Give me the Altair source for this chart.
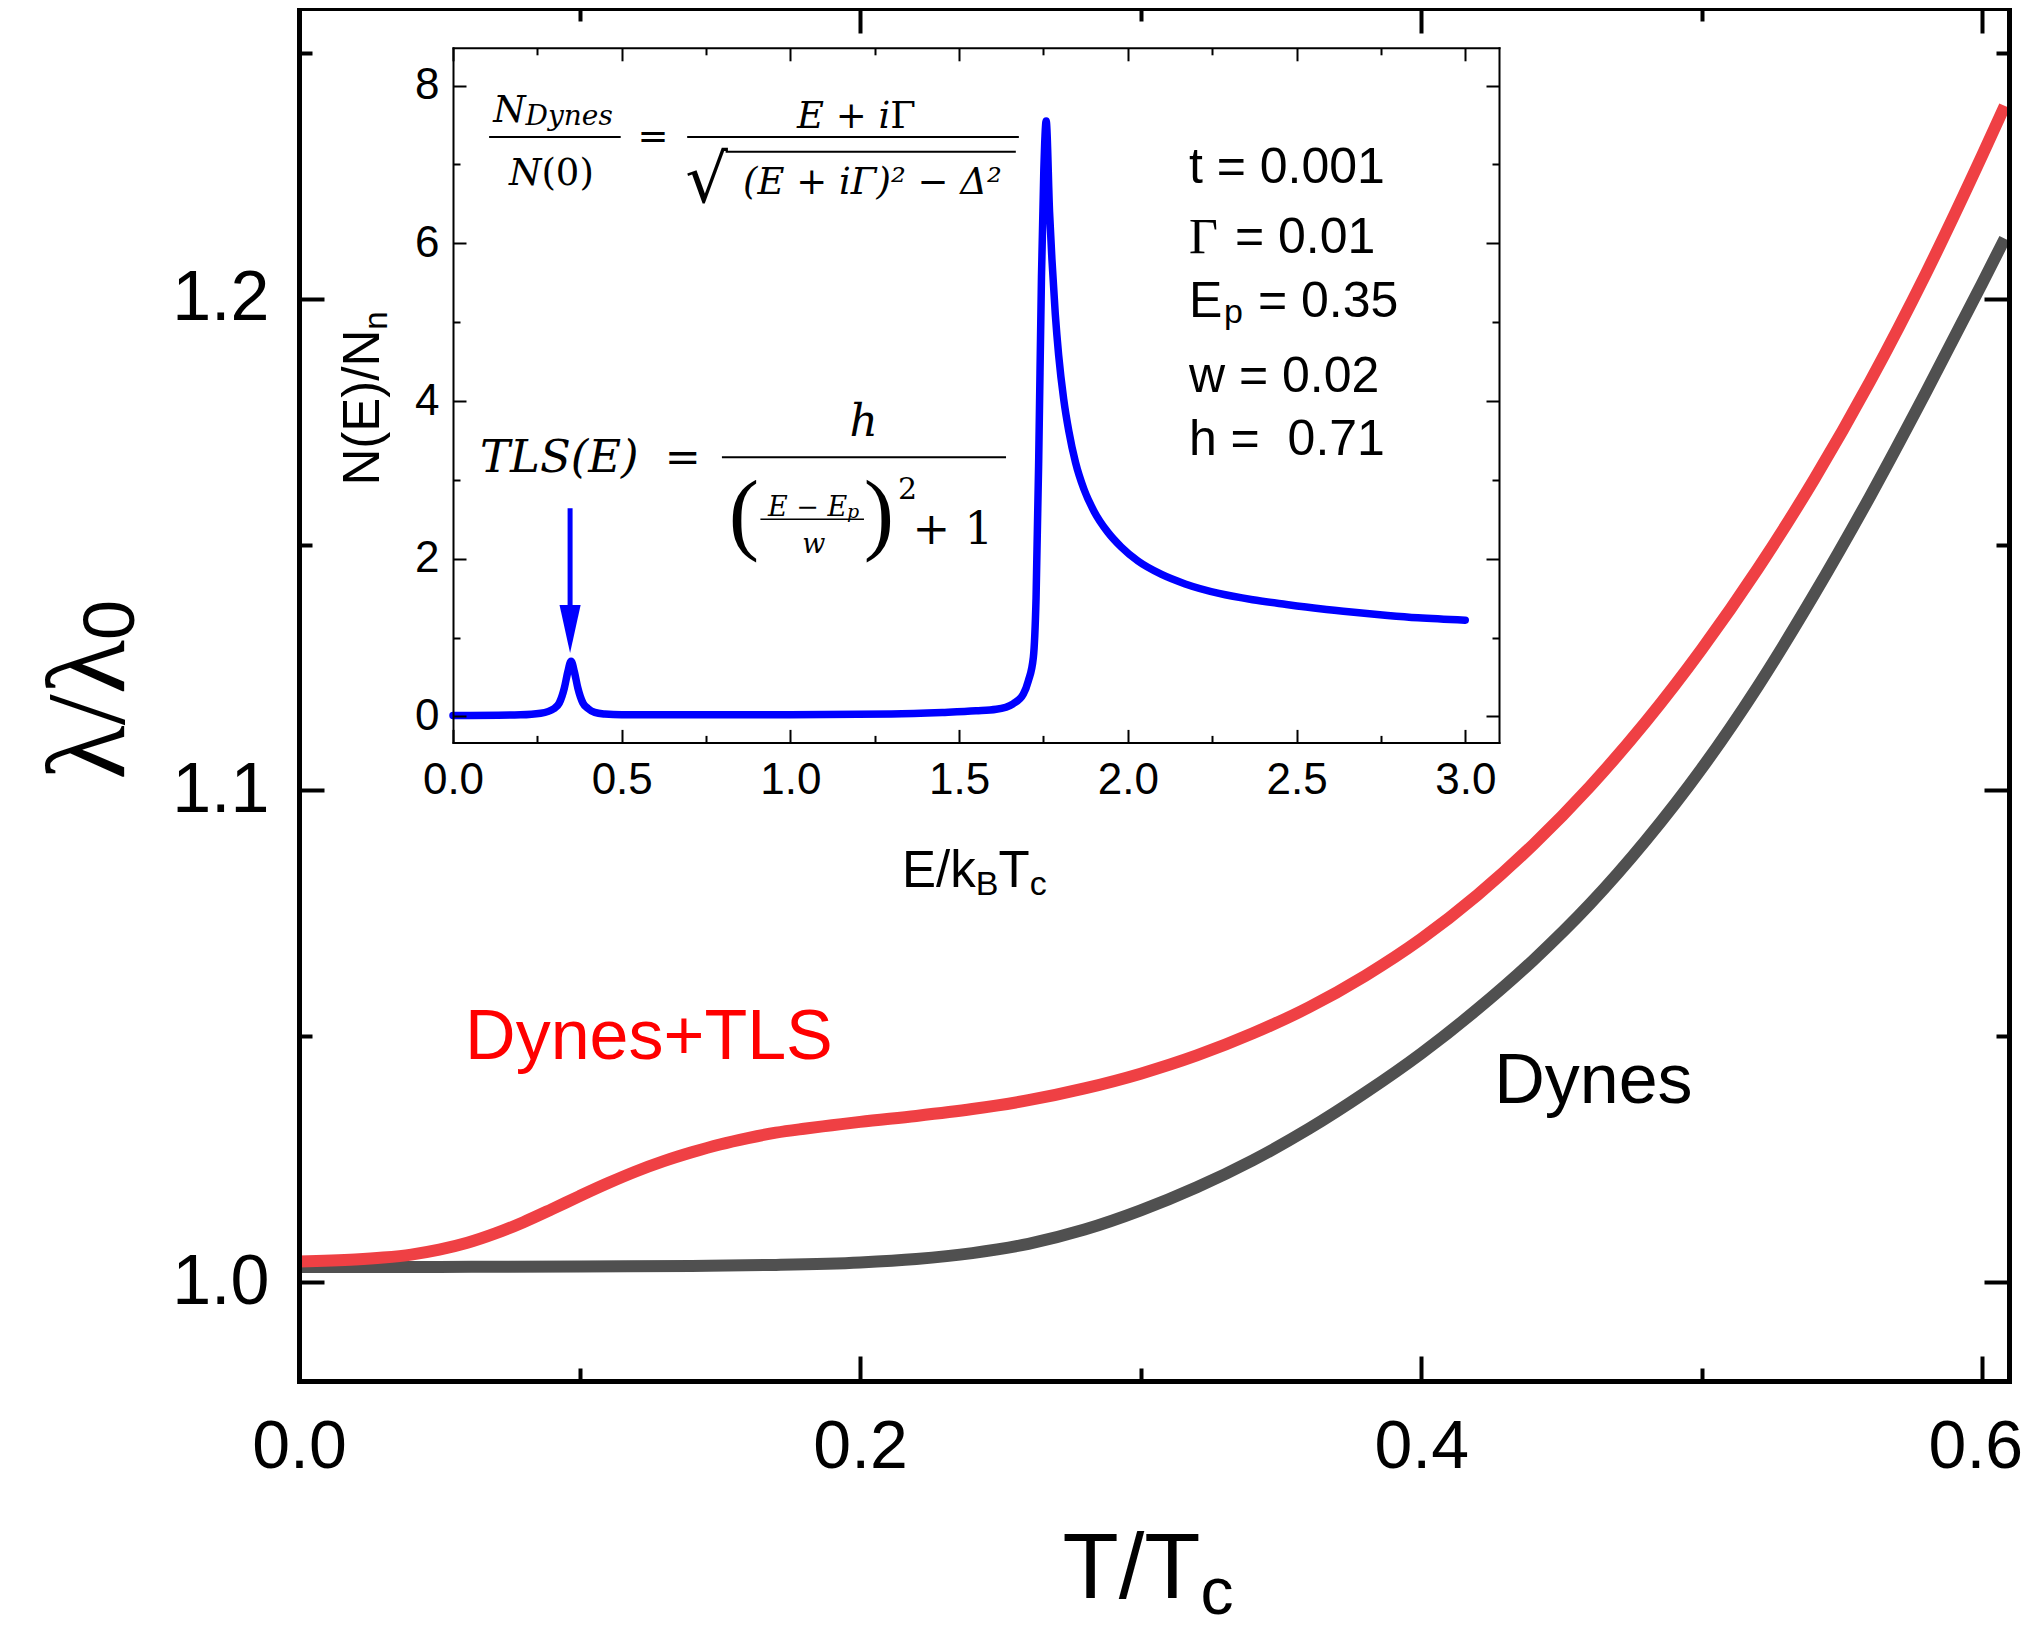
import altair as alt
import pandas as pd

# ---------------- data ----------------
T_TLS = [0.000, 0.020, 0.030, 0.040, 0.050, 0.060, 0.070, 0.080, 0.090, 0.100,
         0.110, 0.120, 0.130, 0.140, 0.150, 0.160, 0.170, 0.180, 0.190, 0.200,
         0.220, 0.240, 0.260, 0.280, 0.300, 0.320, 0.340, 0.360, 0.380, 0.400,
         0.420, 0.440, 0.460, 0.480, 0.500, 0.520, 0.540, 0.560, 0.580, 0.600, 0.608]
L_TLS = [1.0042, 1.0046, 1.0050, 1.0056, 1.0066, 1.0080, 1.0099, 1.0122, 1.0148, 1.0175,
         1.0201, 1.0225, 1.0246, 1.0264, 1.0280, 1.0293, 1.0304, 1.0312, 1.0319, 1.0326,
         1.0338, 1.0352, 1.0370, 1.0394, 1.0424, 1.0461, 1.0506, 1.0559, 1.0623, 1.0698,
         1.0787, 1.0890, 1.1007, 1.1139, 1.1287, 1.1451, 1.1632, 1.1832, 1.2052, 1.2292, 1.2392]

T_DYN = [0.000, 0.050, 0.100, 0.140, 0.170, 0.200, 0.220, 0.240, 0.260, 0.280,
         0.300, 0.320, 0.340, 0.360, 0.380, 0.400, 0.420, 0.440, 0.460, 0.480,
         0.500, 0.520, 0.540, 0.560, 0.580, 0.600, 0.608]
L_DYN = [1.0031, 1.0031, 1.0032, 1.0033, 1.0035, 1.0040, 1.0047, 1.0059, 1.0078, 1.0107,
         1.0146, 1.0193, 1.0248, 1.0312, 1.0385, 1.0465, 1.0555, 1.0655, 1.0768, 1.0898,
         1.1045, 1.1212, 1.1398, 1.1598, 1.1811, 1.2032, 1.2122]

E_INSET = [0.00, 0.20, 0.26, 0.30, 0.315, 0.33, 0.34, 0.35, 0.36, 0.37, 0.385, 0.40,
           0.42, 0.45, 0.50, 1.00, 1.30, 1.45, 1.55, 1.61, 1.66, 1.69, 1.705, 1.72,
           1.728, 1.736, 1.744, 1.751, 1.758, 1.768, 1.775, 1.785, 1.795, 1.81, 1.825,
           1.845, 1.87, 1.90, 1.94, 1.98, 2.03, 2.10, 2.17, 2.27, 2.37, 2.47, 2.57,
           2.67, 2.77, 2.86, 3.00]
N_INSET = [0.01, 0.02, 0.04, 0.10, 0.17, 0.36, 0.56, 0.70, 0.56, 0.36, 0.17, 0.10,
           0.05, 0.03, 0.02, 0.02, 0.03, 0.05, 0.07, 0.09, 0.16, 0.28, 0.45, 0.75,
           1.50, 3.30, 5.57, 6.93, 7.55, 6.40, 5.80, 5.10, 4.58, 4.02, 3.62,
           3.22, 2.88, 2.60, 2.34, 2.15, 1.97, 1.80, 1.68, 1.56, 1.48, 1.42, 1.365,
           1.32, 1.28, 1.25, 1.22]

MAIN_X_MAJOR = [0.0, 0.2, 0.4, 0.6]
MAIN_X_LABELLED = [0.0, 0.2, 0.4]
MAIN_X_LAST = [0.6]
MAIN_X_MINOR = [0.1, 0.3, 0.5]
MAIN_Y_MAJOR = [1.0, 1.1, 1.2]
MAIN_Y_MINOR = [1.05, 1.15, 1.25]
INSET_X_MAJOR = [0.0, 0.5, 1.0, 1.5, 2.0, 2.5, 3.0]
INSET_X_MINOR = [0.25, 0.75, 1.25, 1.75, 2.25, 2.75]
INSET_Y_MAJOR = [0, 2, 4, 6, 8]
INSET_Y_MINOR = [1, 3, 5, 7]

PARAM_LINES = ["t = 0.001", "w = 0.02", "h =\u00a0 0.71"]
PARAM_N = [6.95, 4.31, 3.50]

# ---------------- layout ----------------
W, H = 1710, 1373
IN_L, IN_R, IN_T, IN_B = 154, 1200, 39.8, 734.4
SANS = "Liberation Sans"
MATH = "DejaVu Serif"
RED, DARK, BLUE = "#EF4044", "#505050", "#0000FF"


def xm():
    return alt.Scale(domain=[0, 0.6095], nice=False, zero=False)


def ym():
    return alt.Scale(domain=[0.9799, 1.2591], nice=False, zero=False)


def xi():
    return alt.Scale(domain=[0, 3.1], range=[IN_L, IN_R], nice=False, zero=False)


def yi():
    return alt.Scale(domain=[-0.33, 8.48], range=[IN_B, IN_T], nice=False, zero=False)


df_tls = pd.DataFrame({"x": T_TLS, "y": L_TLS})
df_dyn = pd.DataFrame({"x": T_DYN, "y": L_DYN})
df_in = pd.DataFrame({"x": E_INSET, "y": N_INSET})


def tick_axis(orient, values, offset, size, width, domain=False, dwidth=5):
    kw = dict(orient=orient, values=values, offset=offset, labels=False, ticks=True,
              tickSize=size, tickWidth=width, tickColor="black", grid=False, title=None,
              domain=domain, zindex=1)
    if domain:
        kw.update(domainWidth=dwidth, domainColor="black", domainCap="square")
    return alt.Axis(**kw)


def label_axis(orient, values, fmt, size, pad, offset=0, domain=True, dwidth=5, loff=0):
    kw = dict(orient=orient, values=values, format=fmt, offset=offset, ticks=False, tickSize=0,
              labelFont=SANS, labelFontSize=size, labelColor="black", labelPadding=pad,
              labelFlush=False, labelOverlap=False, grid=False, title=None, domain=domain,
              zindex=1, labelOffset=loff)
    if domain:
        kw.update(domainWidth=dwidth, domainColor="black", domainCap="square")
    return alt.Axis(**kw)


def axis_layer(df, xs, ys, xaxis, yaxis):
    return alt.Chart(df).mark_point(opacity=0).encode(
        x=alt.X("x:Q", scale=xs, axis=xaxis),
        y=alt.Y("y:Q", scale=ys, axis=yaxis),
    )


def text(xs, ys, x, y, s, **kw):
    d = pd.DataFrame({"x": [x], "y": [y], "t": [s]})
    return alt.Chart(d).mark_text(**kw).encode(
        x=alt.X("x:Q", scale=xs, axis=None),
        y=alt.Y("y:Q", scale=ys, axis=None),
        text="t:N",
    )


def hbar(xs, ys, x1, x2, y, w):
    d = pd.DataFrame({"x": [x1], "x2": [x2], "y": [y]})
    return alt.Chart(d).mark_rule(color="black", strokeWidth=w).encode(
        x=alt.X("x:Q", scale=xs, axis=None), x2="x2:Q",
        y=alt.Y("y:Q", scale=ys, axis=None),
    )


layers = []

# ---- main curves with labelled axes ----
layers.append(alt.Chart(df_dyn).mark_line(color=DARK, strokeWidth=12, interpolate="monotone").encode(
    x=alt.X("x:Q", scale=xm(), axis=label_axis("bottom", MAIN_X_LABELLED, ".1f", 68, 32)),
    y=alt.Y("y:Q", scale=ym(), axis=label_axis("left", MAIN_Y_MAJOR, ".1f", 70, 30)),
))
layers.append(alt.Chart(df_tls).mark_line(color=RED, strokeWidth=12, interpolate="monotone").encode(
    x=alt.X("x:Q", scale=xm(), axis=label_axis("bottom", MAIN_X_LAST, ".1f", 68, 32,
                                              domain=False, loff=-7)),
    y=alt.Y("y:Q", scale=ym(), axis=None),
))

# ---- main inward ticks (bottom/left, top/right) ----
layers.append(axis_layer(df_tls, xm(), ym(),
                         tick_axis("top", MAIN_X_MAJOR, -H, 25, 4),
                         tick_axis("right", MAIN_Y_MAJOR, -W, 25, 4)))
layers.append(axis_layer(df_tls, xm(), ym(),
                         tick_axis("top", MAIN_X_MINOR, -H, 13, 4),
                         tick_axis("right", MAIN_Y_MINOR, -W, 13, 4)))
layers.append(axis_layer(df_tls, xm(), ym(),
                         tick_axis("bottom", MAIN_X_MAJOR, -H, 25, 4, domain=True, dwidth=5),
                         tick_axis("left", MAIN_Y_MAJOR, -W, 25, 4, domain=True, dwidth=5)))
layers.append(axis_layer(df_tls, xm(), ym(),
                         tick_axis("bottom", MAIN_X_MINOR, -H, 13, 4),
                         tick_axis("left", MAIN_Y_MINOR, -W, 13, 4)))

# ---- main titles and curve labels ----
layers.append(text(xm(), ym(), 0.3213, 0.9415, "T/T", font=SANS, fontSize=92, align="right", color="black"))
layers.append(text(xm(), ym(), 0.3213, 0.9415, "c", font=SANS, fontSize=66, align="left", dy=24, color="black"))
layers.append(text(xm(), ym(), -0.0745, 1.1306, "λ/λ", font="Liberation Serif", fontSize=112,
                   angle=270, align="right", color="black"))
layers.append(text(xm(), ym(), -0.0745, 1.1306, "0", font=SANS, fontSize=72,
                   angle=270, align="left", dy=22, color="black"))
layers.append(text(xm(), ym(), 0.0592, 1.0497, "Dynes+TLS", font=SANS, fontSize=70, align="left", color="#FF0000"))
layers.append(text(xm(), ym(), 0.4260, 1.0408, "Dynes", font=SANS, fontSize=70, align="left", color="black"))

# ---- inset curve with labelled axes ----
layers.append(alt.Chart(df_in).mark_line(color=BLUE, strokeWidth=7.5, interpolate="monotone",
                                         strokeCap="round").encode(
    x=alt.X("x:Q", scale=xi(), axis=label_axis("bottom", INSET_X_MAJOR, ".1f", 44, 16,
                                              offset=IN_B - H, dwidth=2)),
    y=alt.Y("y:Q", scale=yi(), axis=label_axis("left", INSET_Y_MAJOR, "d", 44, 14,
                                              offset=-IN_L, dwidth=2)),
))

# ---- inset inward ticks ----
layers.append(axis_layer(df_in, xi(), yi(),
                         tick_axis("top", INSET_X_MAJOR, -IN_B, 13, 2),
                         tick_axis("right", INSET_Y_MAJOR, IN_L - W, 13, 2)))
layers.append(axis_layer(df_in, xi(), yi(),
                         tick_axis("top", INSET_X_MINOR, -IN_B, 7, 2),
                         tick_axis("right", INSET_Y_MINOR, IN_L - W, 7, 2)))
layers.append(axis_layer(df_in, xi(), yi(),
                         tick_axis("bottom", INSET_X_MAJOR, IN_T - H, 13, 2, domain=True, dwidth=2),
                         tick_axis("left", INSET_Y_MAJOR, -IN_R, 13, 2, domain=True, dwidth=2)))
layers.append(axis_layer(df_in, xi(), yi(),
                         tick_axis("bottom", INSET_X_MINOR, IN_T - H, 7, 2),
                         tick_axis("left", INSET_Y_MINOR, -IN_R, 7, 2)))

# ---- inset axis titles ----
layers.append(text(xi(), yi(), -0.264, 4.905, "N(E)/N", font=SANS, fontSize=51, angle=270, align="right", color="black"))
layers.append(text(xi(), yi(), -0.264, 4.905, "n", font=SANS, fontSize=33, angle=270, align="left", dy=13, color="black"))
for s, dx, dy, fs in [("E/k", 0, 0, 51), ("B", 73.7, 13, 34), ("T", 96.4, 0, 51), ("c", 127.6, 13, 34)]:
    layers.append(text(xi(), yi(), 1.331, -1.970, s, font=SANS, fontSize=fs, align="left", dx=dx, dy=dy, color="black"))

# ---- arrow to TLS peak ----
arrow_df = pd.DataFrame({"x": [0.347], "y": [2.64], "y2": [1.3]})
layers.append(alt.Chart(arrow_df).mark_rule(color=BLUE, strokeWidth=5).encode(
    x=alt.X("x:Q", scale=xi(), axis=None),
    y=alt.Y("y:Q", scale=yi(), axis=None), y2="y2:Q"))
head_df = pd.DataFrame({"x": [0.347], "y": [1.108]})
layers.append(alt.Chart(head_df).mark_point(shape="M-0.44,-1L0.44,-1L0,1Z", filled=True, size=2304,
                                            color=BLUE, opacity=1, strokeWidth=0).encode(
    x=alt.X("x:Q", scale=xi(), axis=None),
    y=alt.Y("y:Q", scale=yi(), axis=None)))

# ---- parameter list ----
for s, n in zip(PARAM_LINES, PARAM_N):
    layers.append(text(xi(), yi(), 2.181, n, s, font=SANS, fontSize=50, align="left", color="black"))
layers.append(text(xi(), yi(), 2.181, 6.07, "Γ", font="Liberation Serif", fontSize=50, align="left", color="black"))
layers.append(text(xi(), yi(), 2.181, 6.07, "= 0.01", font=SANS, fontSize=50, align="left", dx=46, color="black"))
layers.append(text(xi(), yi(), 2.181, 5.25, "E", font=SANS, fontSize=50, align="left", color="black"))
layers.append(text(xi(), yi(), 2.181, 5.25, "p", font=SANS, fontSize=34, align="left", dx=35, dy=11, color="black"))
layers.append(text(xi(), yi(), 2.181, 5.25, "= 0.35", font=SANS, fontSize=50, align="left", dx=69, color="black"))

# ---- formula 1: N_Dynes / N(0) = (E+iΓ)/sqrt((E+iΓ)^2 - Δ^2) ----
M = dict(font=MATH, color="black")
layers.append(text(xi(), yi(), 0.215, 7.68, "N", fontSize=37, fontStyle="italic", align="right", **M))
layers.append(text(xi(), yi(), 0.215, 7.68, "Dynes", fontSize=28, fontStyle="italic", align="left", dy=6, **M))
layers.append(hbar(xi(), yi(), 0.107, 0.497, 7.35, 2))
layers.append(text(xi(), yi(), 0.262, 6.88, "N", fontSize=37, fontStyle="italic", align="right", **M))
layers.append(text(xi(), yi(), 0.262, 6.88, "(0)", fontSize=37, align="left", **M))
layers.append(text(xi(), yi(), 0.593, 7.33, "=", fontSize=37, align="center", baseline="middle", **M))
layers.append(hbar(xi(), yi(), 0.694, 1.677, 7.35, 2))
layers.append(text(xi(), yi(), 1.296, 7.60, "E + i", fontSize=37, fontStyle="italic", align="right", **M))
layers.append(text(xi(), yi(), 1.296, 7.60, "Γ", fontSize=37, align="left", **M))
layers.append(text(xi(), yi(), 0.815, 6.78, "√", fontSize=67, align="right", **M))
layers.append(hbar(xi(), yi(), 0.808, 1.668, 7.16, 2))
layers.append(text(xi(), yi(), 1.243, 6.77, "(E + iΓ)² − Δ²", fontSize=37, fontStyle="italic", align="center", **M))

# ---- formula 2: TLS(E) = h / (((E-Ep)/w)^2 + 1) ----
layers.append(text(xi(), yi(), 0.080, 3.28, "TLS(E)", fontSize=45, fontStyle="italic", align="left", **M))
layers.append(text(xi(), yi(), 0.681, 3.26, "=", fontSize=43, align="center", baseline="middle", **M))
layers.append(hbar(xi(), yi(), 0.797, 1.639, 3.286, 2))
layers.append(text(xi(), yi(), 1.217, 3.72, "h", fontSize=44, fontStyle="italic", align="center", **M))
layers.append(text(xi(), yi(), 0.862, 2.54, "(", font="Liberation Serif", fontSize=91, align="center",
                   baseline="middle", color="black"))
layers.append(text(xi(), yi(), 1.262, 2.54, ")", font="Liberation Serif", fontSize=91, align="center",
                   baseline="middle", color="black"))
layers.append(text(xi(), yi(), 1.168, 2.64, "E − E", fontSize=27, fontStyle="italic", align="right", **M))
layers.append(text(xi(), yi(), 1.168, 2.64, "p", fontSize=19, fontStyle="italic", align="left", dy=4, **M))
layers.append(hbar(xi(), yi(), 0.911, 1.218, 2.50, 1.5))
layers.append(text(xi(), yi(), 1.069, 2.18, "w", fontSize=27, fontStyle="italic", align="center", **M))
layers.append(text(xi(), yi(), 1.347, 2.87, "2", fontSize=30, align="center", **M))
layers.append(text(xi(), yi(), 1.362, 2.36, "+ 1", fontSize=45, align="left", **M))

chart = alt.layer(*layers).resolve_scale(
    x="independent", y="independent"
).resolve_axis(
    x="independent", y="independent"
).properties(
    width=W, height=H,
    autosize=alt.AutoSizeParams(type="none"),
    padding={"left": 291, "top": 0, "right": 14, "bottom": 252},
    background="white",
).configure_view(stroke=None)

chart.save("out.html", embed_options={"renderer": "svg", "actions": False})
